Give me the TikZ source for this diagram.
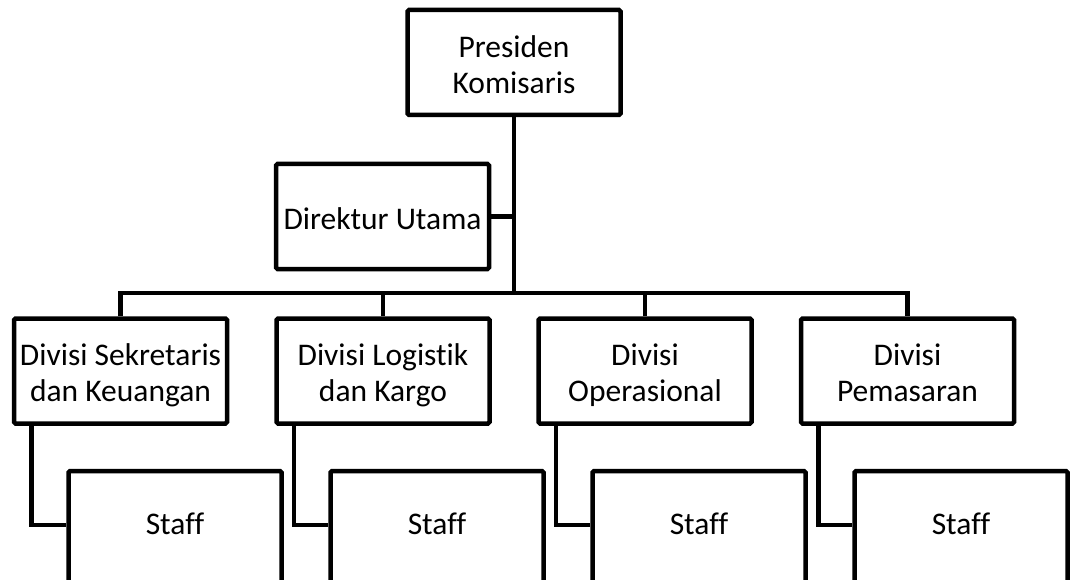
\documentclass[tikz,border=0pt]{standalone}
\usepackage{fontspec}
\setmainfont{Carlito}[Ligatures={NoCommon}]
\newcommand\toprl{\rule{0pt}{36pt}}
\begin{document}
\begin{tikzpicture}[x=1pt,y=-1pt,
  every node/.style={font=\fontsize{31.5}{36}\selectfont},
  orgbox/.style={draw, line width=4.5pt, rounded corners=1.5pt, minimum width=213pt, minimum height=105pt, inner sep=0pt, align=center, fill=white},
  stafflabel/.style={inner sep=0pt},
  staffbox/.style={orgbox, minimum height=112pt},
  conn/.style={line width=4.5pt, line join=miter}]
\useasboundingbox (0,0) rectangle (1071,580);
\clip (0,0) rectangle (1071,580);
\node[orgbox] (pres) at (514,62.5) {\toprl Presiden\\Komisaris\strut};
\node[orgbox] (dir) at (382.5,216.5) {\toprl Direktur Utama\strut};
\node[orgbox] (d1) at (120.5,371) {\toprl Divisi Sekretaris\\dan Keuangan\strut};
\node[orgbox] (d2) at (383,371) {\toprl Divisi Logistik\\dan Kargo\strut};
\node[orgbox] (d3) at (645,371) {\toprl Divisi\\Operasional\strut};
\node[orgbox] (d4) at (907.5,371) {\toprl Divisi\\Pemasaran\strut};
\node[staffbox, label={[stafflabel, yshift=5.5pt]center:\toprl Staff\strut}] (s1) at (175,527) {};
\node[staffbox, label={[stafflabel, yshift=5.5pt]center:\toprl Staff\strut}] (s2) at (437,527) {};
\node[staffbox, label={[stafflabel, yshift=5.5pt]center:\toprl Staff\strut}] (s3) at (699,527) {};
\node[staffbox, label={[stafflabel, yshift=5.5pt]center:\toprl Staff\strut}] (s4) at (961,527) {};
\coordinate (bus) at (514,293);
\draw[conn] (pres.south) -- (bus);
\draw[conn] (dir.east) -- (dir.east -| pres.south);
\draw[conn] (d1.north) |- (bus) -| (d4.north);
\draw[conn] (d2.north) -- (d2.north |- bus);
\draw[conn] (d3.north) -- (d3.north |- bus);
\foreach \i in {1,2,3,4}{
  \draw[conn] ([xshift=19.5pt]d\i.south west) |- ([yshift=2pt]s\i.west);
}
\end{tikzpicture}
\end{document}
